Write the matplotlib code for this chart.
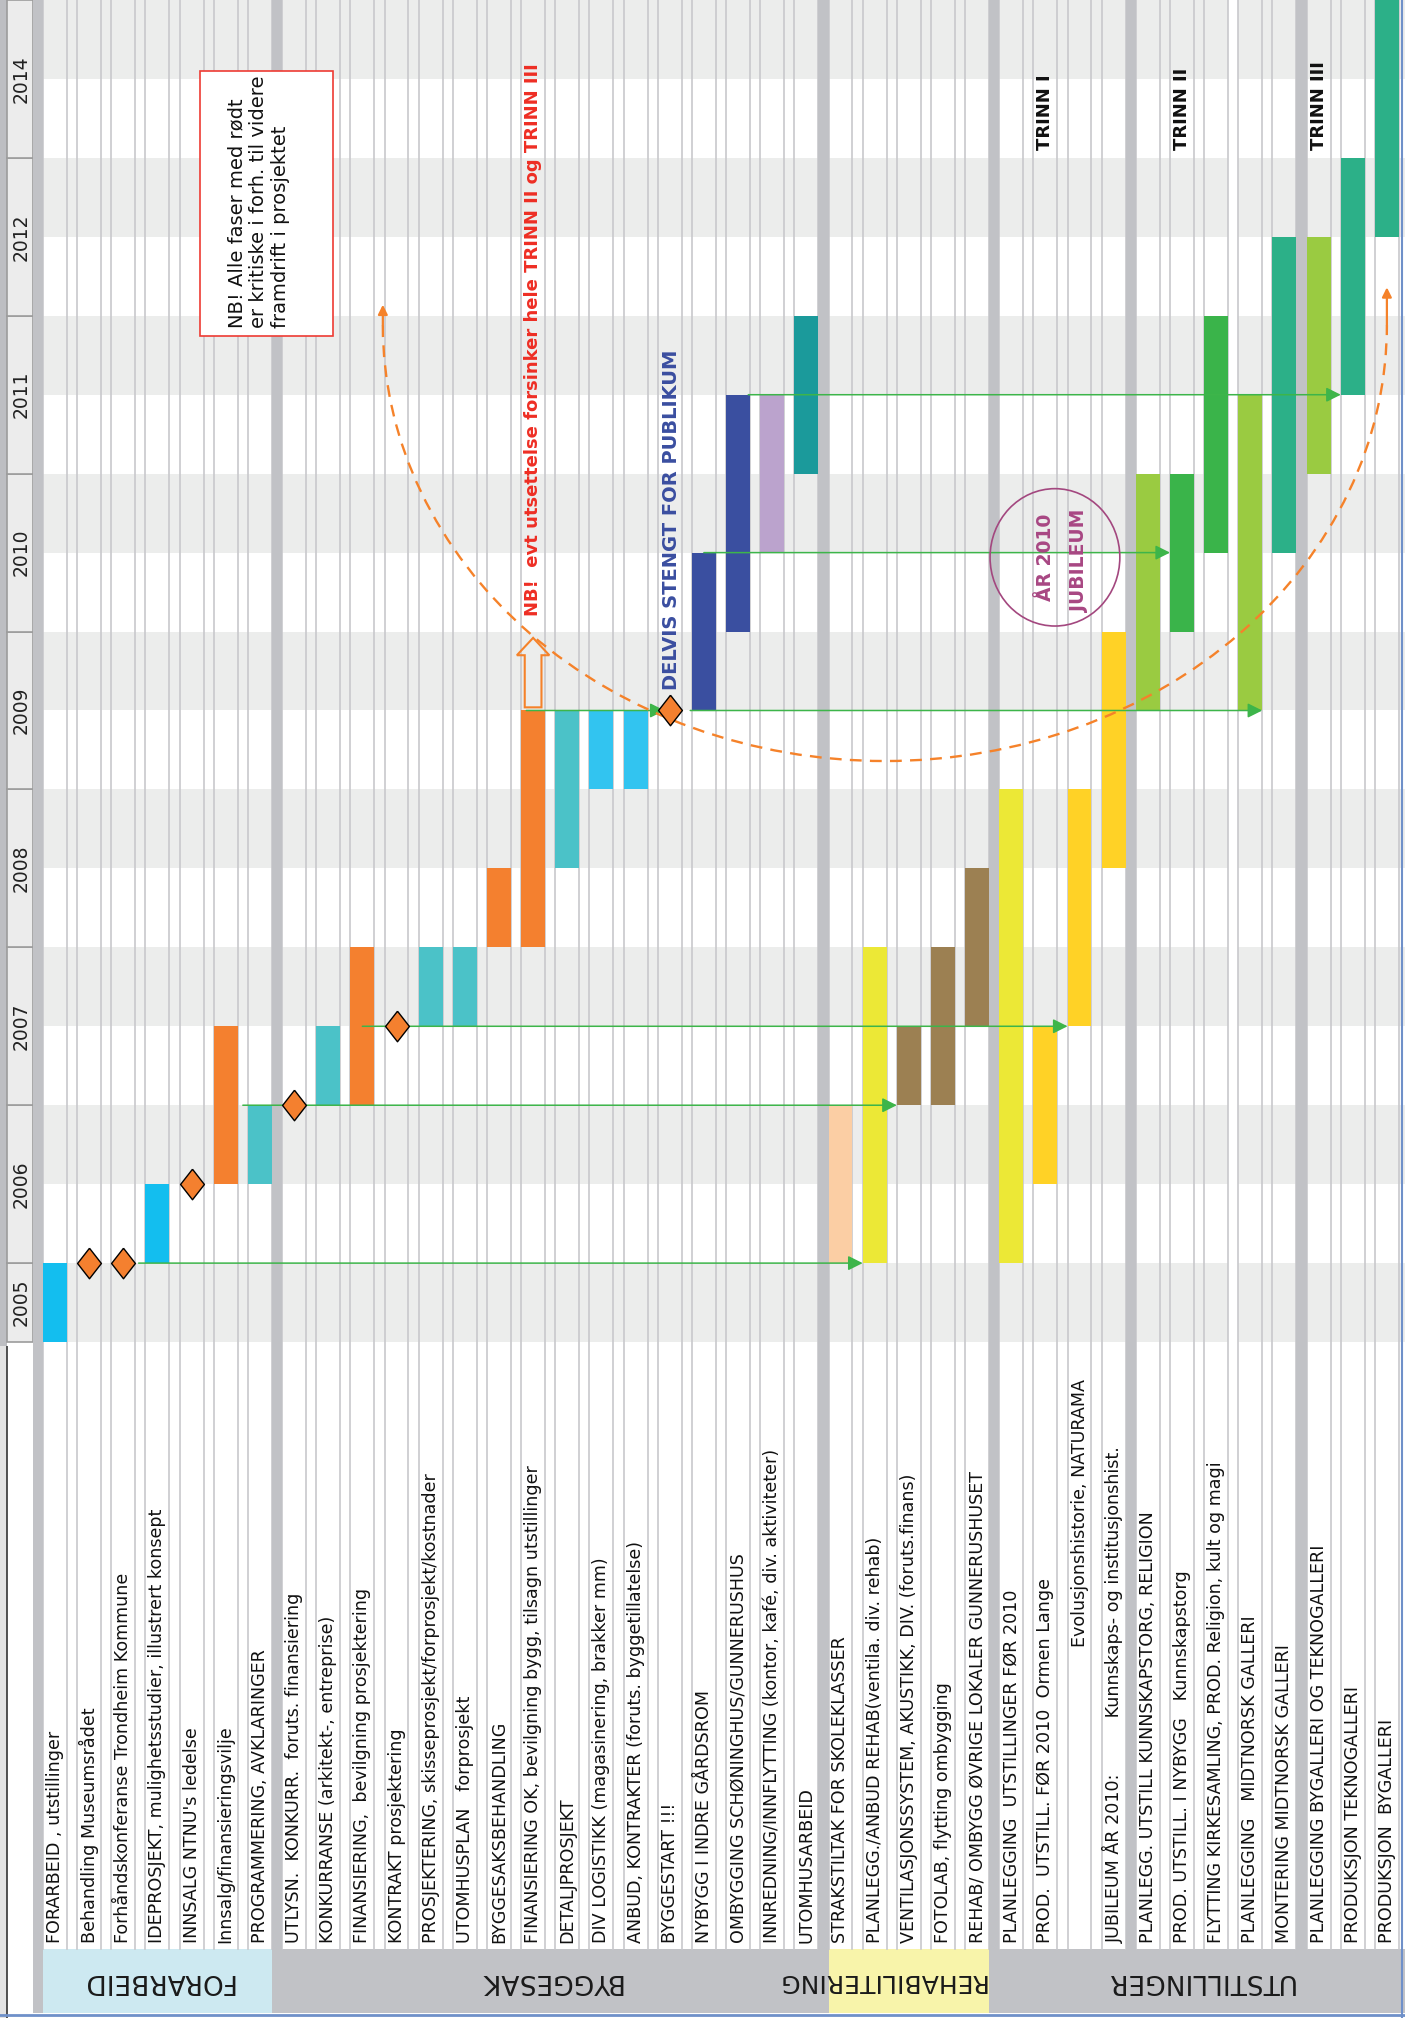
import matplotlib

matplotlib.use("Agg")
import matplotlib.pyplot as plt
import numpy as np
from matplotlib.patches import Arc, Ellipse, FancyArrow, Rectangle

# --- data -----------------------------------------------------------------
ROW_LABELS = [
    "FORARBEID , utstillinger",
    "Behandling Museumsrådet",
    "Forhåndskonferanse Trondheim Kommune",
    "IDEPROSJEKT, mulighetsstudier, illustrert konsept",
    "INNSALG NTNU's ledelse",
    "Innsalg/finansieringsvilje",
    "PROGRAMMERING, AVKLARINGER",
    "UTLYSN.  KONKURR.  foruts. finansiering",
    "KONKURRANSE (arkitekt-, entreprise)",
    "FINANSIERING,  bevilgning prosjektering",
    "KONTRAKT prosjektering",
    "PROSJEKTERING, skisseprosjekt/forprosjekt/kostnader",
    "UTOMHUSPLAN   forprosjekt",
    "BYGGESAKSBEHANDLING",
    "FINANSIERING OK, bevilgning bygg, tilsagn utstillinger",
    "DETALJPROSJEKT",
    "DIV LOGISTIKK (magasinering, brakker mm)",
    "ANBUD, KONTRAKTER (foruts. byggetillatelse)",
    "BYGGESTART !!!",
    "NYBYGG I INDRE GÅRDSROM",
    "OMBYGGING SCHØNINGHUS/GUNNERUSHUS",
    "INNREDNING/INNFLYTTING (kontor, kafé, div. aktiviteter)",
    "UTOMHUSARBEID",
    "STRAKSTILTAK FOR SKOLEKLASSER",
    "PLANLEGG./ANBUD REHAB(ventila. div. rehab)",
    "VENTILASJONSSYSTEM, AKUSTIKK, DIV. (foruts.finans)",
    "FOTOLAB, flytting ombygging",
    "REHAB/ OMBYGG ØVRIGE LOKALER GUNNERUSHUSET",
    "PLANLEGGING  UTSTILLINGER FØR 2010",
    "PROD.  UTSTILL. FØR 2010  Ormen Lange",
    "Evolusjonshistorie, NATURAMA",
    "JUBILEUM ÅR 2010:          Kunnskaps- og institusjonshist.",
    "PLANLEGG. UTSTILL KUNNSKAPSTORG, RELIGION",
    "PROD. UTSTILL. I NYBYGG   Kunnskapstorg",
    "FLYTTING KIRKESAMLING, PROD. Religion, kult og magi",
    "PLANLEGGING   MIDTNORSK GALLERI",
    "MONTERING MIDTNORSK GALLERI",
    "PLANLEGGING BYGALLERI OG TEKNOGALLERI",
    "PRODUKSJON TEKNOGALLERI",
    "PRODUKSJON  BYGALLERI",
]

GROUP_NAMES = ["FORARBEID", "BYGGESAK", "REHABILITERING", "UTSTILLINGER"]
GROUP_FIRST = [0, 7, 23, 28]
GROUP_LAST = [6, 22, 27, 39]
SEPARATOR_BEFORE = [0, 7, 23, 28, 32, 37]

YEAR_LABELS = ["2005", "2006", "2007", "2008", "2009", "2010", "2011", "2012", "2014"]
YEAR_FROM = [2005.5, 2006, 2007, 2008, 2009, 2010, 2011, 2012, 2013]
YEAR_TO = [2006, 2007, 2008, 2009, 2010, 2011, 2012, 2013, 2014]

BAR_ROW = [0, 3, 5, 6, 8, 9, 11, 12, 13, 14, 15, 16, 17, 19, 20, 21, 22,
           23, 24, 25, 26, 27, 28, 29, 30, 31, 32, 33, 34, 35, 36, 37, 38, 39]
BAR_START = [2005.5, 2006.0, 2006.5, 2006.5, 2007.0, 2007.0, 2007.5, 2007.5, 2008.0, 2008.0,
             2008.5, 2009.0, 2009.0, 2009.5, 2010.0, 2010.5, 2011.0,
             2006.0, 2006.0, 2007.0, 2007.0, 2007.5, 2006.0, 2006.5, 2007.5, 2008.5,
             2009.5, 2010.0, 2010.5, 2009.5, 2010.5, 2011.0, 2011.5, 2012.5]
BAR_END = [2006.0, 2006.5, 2007.5, 2007.0, 2007.5, 2008.0, 2008.0, 2008.0, 2008.5, 2009.5,
           2009.5, 2009.5, 2009.5, 2010.5, 2011.5, 2011.5, 2012.0,
           2007.0, 2008.0, 2007.5, 2008.0, 2008.5, 2009.0, 2007.5, 2009.0, 2010.0,
           2011.0, 2011.0, 2012.0, 2011.5, 2012.5, 2012.5, 2013.0, 2014.0]
BAR_KIND = ["sky", "sky", "orange", "teal", "teal", "orange", "teal", "teal", "orange", "orange",
            "teal", "sky2", "sky2", "navy", "navy", "lavender", "darkteal",
            "peach", "yellow", "brown", "brown", "brown", "yellow", "gold", "gold", "gold",
            "lime", "green", "green", "lime", "seagreen", "lime", "seagreen", "seagreen"]

MILESTONE_ROW = [1, 2, 4, 7, 10, 18]
MILESTONE_TIME = [2006.0, 2006.0, 2006.5, 2007.0, 2007.5, 2009.5]

LINK_TIME = [2006.0, 2007.0, 2007.5, 2009.5, 2009.5, 2010.5, 2011.5]
LINK_FROM = [2.45, 5.5, 9.0, 13.8, 18.6, 19.0, 20.3]
LINK_TO = [23.65, 24.65, 29.65, 17.85, 35.35, 32.65, 37.65]

TRINN_LABELS = ["TRINN I", "TRINN II", "TRINN III"]
TRINN_ROW = [29, 33, 37]

# --- styles ---------------------------------------------------------------
PALETTE = {
    "sky": "#13BEEF", "sky2": "#32C4F0", "orange": "#F4802F", "teal": "#4BC2C8",
    "navy": "#3A4FA0", "lavender": "#BBA3CD", "darkteal": "#1B9A9B", "peach": "#FBCEA4",
    "yellow": "#ECE836", "brown": "#9C8052", "gold": "#FFD226", "lime": "#9ACB41",
    "green": "#3AB44A", "seagreen": "#2CB088",
}
BAND = "#ECEDEC"
GRID = "#C8C8CC"
SEP = "#C1C2C6"
LINK = "#3DB54A"
ORANGE = "#F5822A"
RED = "#EE2E24"
BORDER_BLUE = "#6F90C9"

W, H = 1405, 2018
CHART_H = 1346
X_LO, X_HI = -1.61, 39.53
HALF = 0.35

fig = plt.figure(figsize=(W / 100, H / 100), dpi=100)
ax = fig.add_axes([0, 1 - CHART_H / H, 1, CHART_H / H])
axl = fig.add_axes([0, 0, 1, 1 - CHART_H / H], sharex=ax)
ax.set_xlim(X_LO, X_HI)
ax.set_ylim(2005.475, 2014.0)
axl.set_ylim(0, 1)
ax.set_axis_off()
axl.set_axis_off()

HDR_LO, HDR_HI = 0.0075, 0.1027

# halvår-bånd
for yr in range(2005, 2014):
    ax.fill_between([-0.65, X_HI], yr + 0.5, yr + 1, color=BAND, lw=0, zorder=0.5)
ax.axvspan(34 + HALF, 35 - HALF, color="white", lw=0, zorder=0.6)

# venstre årskolonne
ax.axvspan(X_LO, -1.406, color="#BDBEC2", lw=0, zorder=0.5)
ax.bar(-1.028, np.subtract(YEAR_TO, YEAR_FROM), bottom=YEAR_FROM, width=0.756,
       color="#ECECEC", edgecolor="#9C9C9C", lw=1.2, zorder=1)
for lab, y0, y1 in zip(YEAR_LABELS, YEAR_FROM, YEAR_TO):
    ax.text(-1.0, (y0 + y1) / 2, lab, rotation=90, ha="center", va="center",
            fontsize=13.5, color="#222222", zorder=5)
axl.axvspan(X_LO, -1.406, color="#E3E3E3", lw=0, zorder=0.5)
axl.axvline(-1.406, color="#333333", lw=1.2, zorder=1)

# rutenett
for k in range(len(ROW_LABELS)):
    for side in (-HALF, HALF):
        ax.axvline(k + side, color=GRID, lw=1.2, zorder=1)
        axl.axvline(k + side, ymin=HDR_HI, ymax=1, color=GRID, lw=1.2, zorder=1)

# topptekst-felt
axl.fill_between([-HALF, X_HI], HDR_LO, HDR_HI, color=SEP, lw=0, zorder=0.8)
axl.fill_between([GROUP_FIRST[0] - HALF, GROUP_LAST[0] + HALF], HDR_LO, HDR_HI,
                 color="#CDE9F1", lw=0, zorder=0.9)
axl.fill_between([GROUP_FIRST[2] - HALF, GROUP_LAST[2] + HALF], HDR_LO, HDR_HI,
                 color="#F8F4AA", lw=0, zorder=0.9)

for k in SEPARATOR_BEFORE:
    ax.axvspan(k - 0.65, k - HALF, color=SEP, lw=0, zorder=1.5)
    axl.axvspan(k - 0.65, k - HALF, ymin=HDR_LO, color=SEP, lw=0, zorder=1.5)

for name, g0, g1 in zip(GROUP_NAMES, GROUP_FIRST, GROUP_LAST):
    if name == "REHABILITERING":
        axl.text(g1 + 0.25, (HDR_LO + HDR_HI) / 2, name, rotation=180, ha="right",
                 va="center", fontsize=18, color="#1A1A1A", zorder=5)
    else:
        axl.text((g0 + g1) / 2, (HDR_LO + HDR_HI) / 2, name, rotation=180, ha="center",
                 va="center", fontsize=19, color="#1A1A1A", zorder=5)

axl.axhline(0.0052, color=BORDER_BLUE, lw=2, zorder=3)
ax.axvline(39.44, color=BORDER_BLUE, lw=1.5, zorder=3)
axl.axvline(39.44, color=BORDER_BLUE, lw=1.5, zorder=3)

# radetiketter
for k, lab in enumerate(ROW_LABELS):
    y = 0.552 if lab.startswith("Evolusjons") else 0.112
    axl.text(k, y, lab, rotation=90, ha="center", va="bottom", fontsize=12.6,
             color="#111111", zorder=5)

# stolper
ax.bar(BAR_ROW, np.subtract(BAR_END, BAR_START), bottom=BAR_START, width=2 * HALF,
       color=[PALETTE[c] for c in BAR_KIND], lw=0, zorder=2)

# avhengigheter
for y, x0, x1 in zip(LINK_TIME, LINK_FROM, LINK_TO):
    ax.annotate("", xy=(x1, y), xytext=(x0, y),
                arrowprops=dict(arrowstyle="-|>", color=LINK, lw=1.1,
                                mutation_scale=22, shrinkA=0, shrinkB=0), zorder=3)

# milepæler
ax.plot(MILESTONE_ROW, MILESTONE_TIME, ls="none",
        marker=[(0, 1), (0.78, 0), (0, -1), (-0.78, 0), (0, 1)], ms=22,
        mfc="#F4802F", mec="black", mew=1.0, zorder=4)

# stiplet bue for forsinkelse
ax.add_patch(Arc((24.3, 2011.94), 29.4, 5.52, theta1=180, theta2=360, color=ORANGE,
                 lw=1.7, ls=(0, (5, 3.5)), zorder=3.5))
for xe, ytip in ((9.6, 2012.07), (39.0, 2012.18)):
    ax.annotate("", xy=(xe, ytip), xytext=(xe, 2011.94),
                arrowprops=dict(arrowstyle="-|>", color=ORANGE, lw=1.6,
                                mutation_scale=14, shrinkA=0, shrinkB=0), zorder=3.5)

ax.add_patch(FancyArrow(14.0, 2009.52, 0, 0.44, width=0.49, head_width=0.95,
                        head_length=0.11, length_includes_head=True, fill=False,
                        ec=ORANGE, lw=1.5, zorder=4))

# tekster
ax.text(14.0, 2010.1, "NB!  evt utsettelse forsinker hele TRINN II og TRINN III",
        rotation=90, ha="center", va="bottom", fontsize=13, fontweight="bold",
        color=RED, zorder=5)
ax.text(18.05, 2009.63, "DELVIS STENGT FOR PUBLIKUM", rotation=90, ha="center",
        va="bottom", fontsize=14, fontweight="bold", color="#3A4EA0", zorder=5)

ax.add_patch(Rectangle((4.25, 2011.87), 3.89, 1.68, fc="white", ec="#EE3B33",
                       lw=1.2, zorder=4))
ax.text(5.97, 2011.92, "NB! Alle faser med rødt\ner kritiske i forh. til videre\nframdrift i prosjektet",
        rotation=90, ha="center", va="bottom", multialignment="left", fontsize=14,
        color="#111111", zorder=5)

for lab, r in zip(TRINN_LABELS, TRINN_ROW):
    ax.text(r, 2013.05, lab, rotation=90, ha="center", va="bottom", fontsize=13,
            fontweight="bold", color="#111111", zorder=5)

ax.add_patch(Ellipse((29.28, 2010.47), 3.8, 0.87, fill=False, ec="#A3477F",
                     lw=1.2, zorder=4))
ax.text(29.0, 2010.47, "ÅR 2010", rotation=90, ha="center", va="center",
        fontsize=13.5, fontweight="bold", color="#A84783", zorder=5)
ax.text(30.0, 2010.45, "JUBILEUM", rotation=90, ha="center", va="center",
        fontsize=13.5, fontweight="bold", color="#A84783", zorder=5)

fig.savefig("out.png", dpi=100, facecolor="white")
